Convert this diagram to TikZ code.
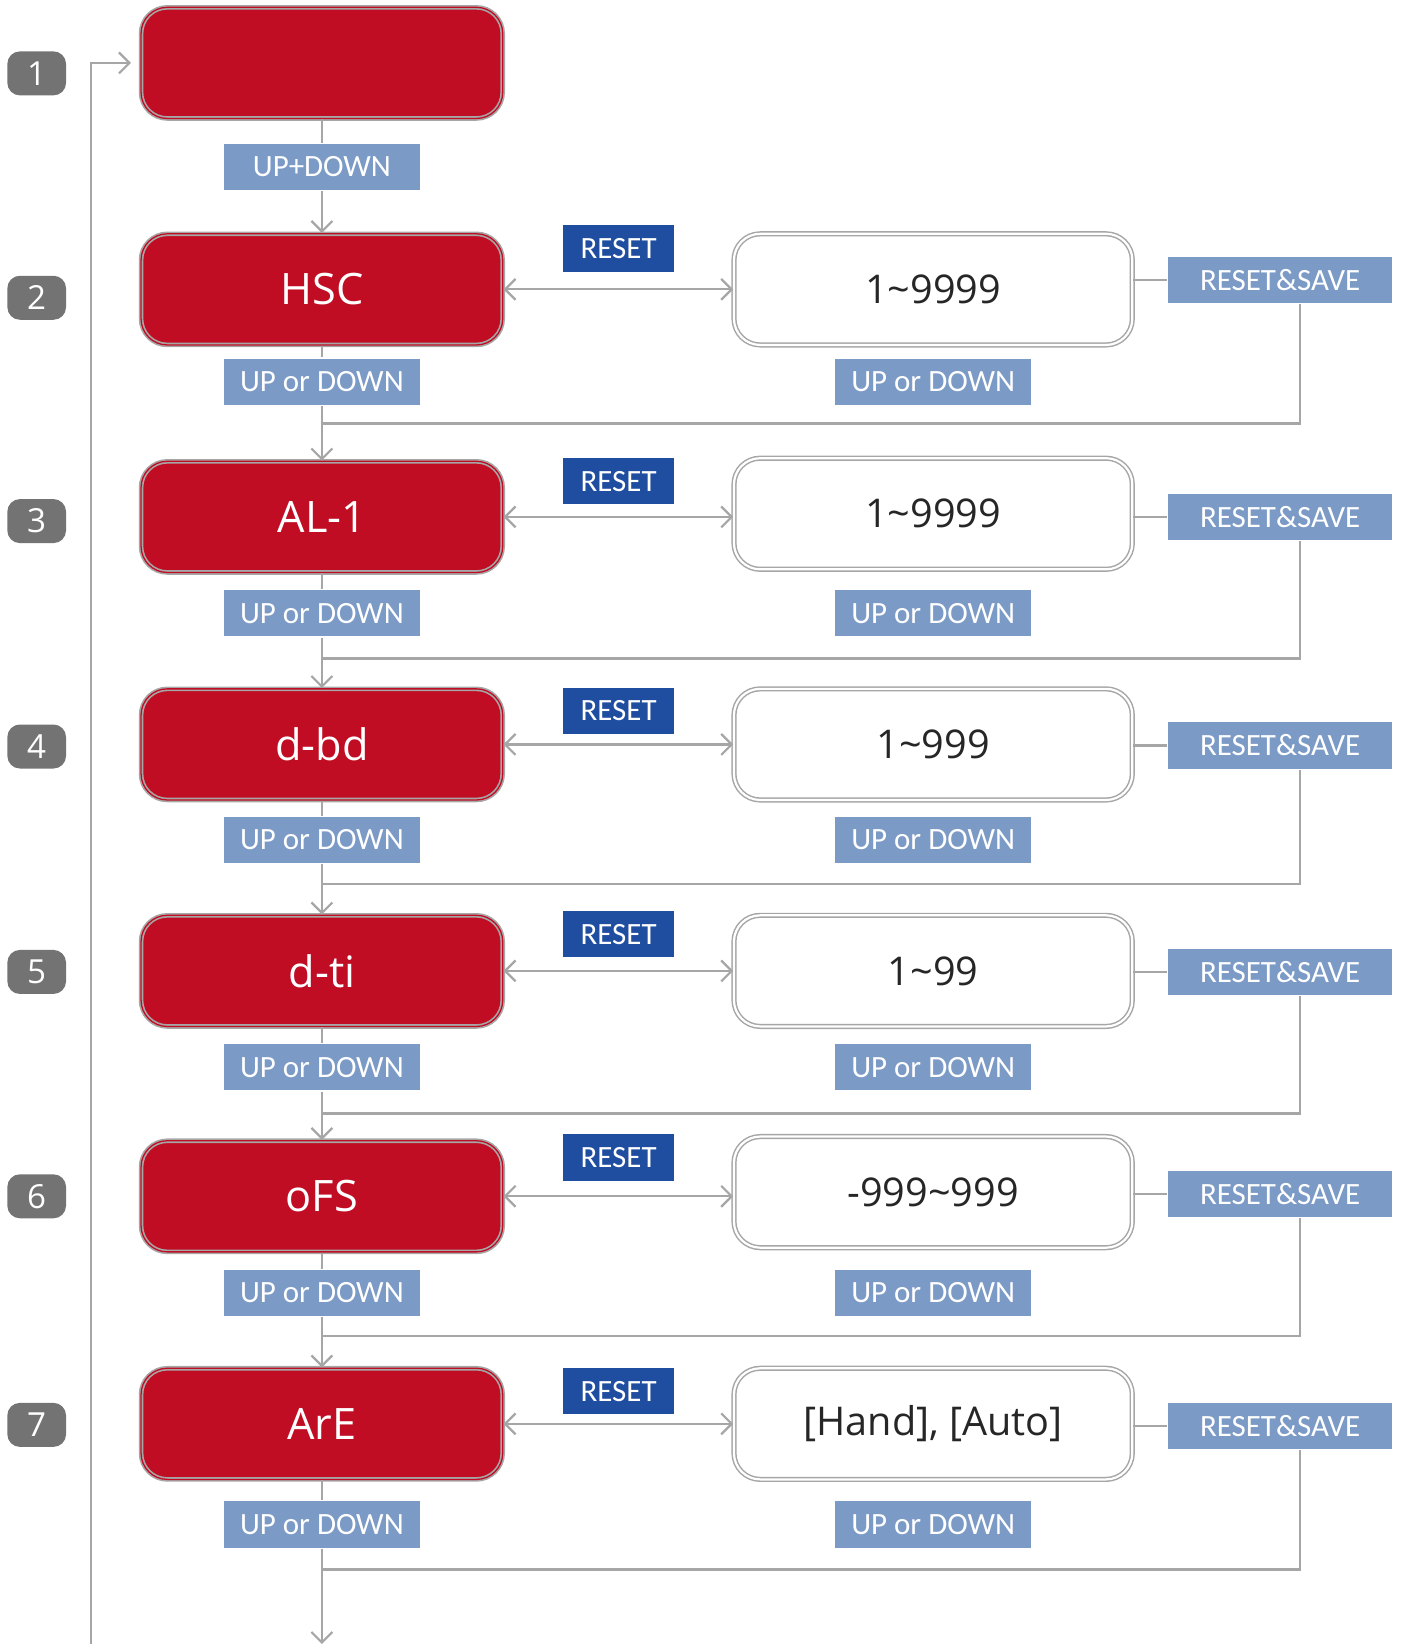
\documentclass[tikz,border=0pt]{standalone}
\usepackage{fontspec}
\setmainfont{Open Sans}
\newfontfamily\keyfont{Carlito}
\usetikzlibrary{arrows.meta}

\definecolor{boxred}{RGB}{192,13,35}
\definecolor{keyblue}{RGB}{123,154,198}
\definecolor{resetblue}{RGB}{31,77,160}
\definecolor{linegray}{RGB}{166,166,166}
\definecolor{badgegray}{RGB}{115,115,115}

\begin{document}
\begin{tikzpicture}[x=0.02cm,y=-0.02cm,line width=1.2pt,
  >={Straight Barb[length=2mm,width=4mm]},
  flow/.style={draw=linegray,line width=1.2pt},
  menu/.style={draw=linegray,line width=0.9pt,double=boxred,double distance=0.7pt,fill=boxred,
    rounded corners=0.5cm,minimum width=6.9cm,minimum height=2.12cm,inner sep=0pt,
    text=white,font=\fontsize{23.5}{26}\selectfont},
  valbox/.style={draw=linegray,line width=0.8pt,double=white,double distance=1.2pt,fill=white,
    rounded corners=0.5cm,minimum width=7.6cm,minimum height=2.12cm,inner sep=0pt,
    text=black!85,font=\fontsize{21.5}{24}\selectfont},
  key/.style={fill=keyblue,text=white,inner sep=0pt,minimum width=3.74cm,minimum height=0.88cm,
    font=\keyfont\fontsize{16.8}{18}\selectfont},
  resetkey/.style={key,fill=resetblue,minimum width=2.12cm},
  savekey/.style={key,minimum width=4.28cm},
  badge/.style={fill=badgegray,rounded corners=0.24cm,minimum width=1.12cm,minimum height=0.84cm,
    inner sep=0pt,text=white,font=\fontsize{18}{20}\selectfont}]

\useasboundingbox (0,0) rectangle (1340,1568);

% numeros a gauche
\foreach \n/\y in {1/70,2/284,3/497,4/712,5/927,6/1141,7/1359}{
  \node[badge] (b\n) at (35,\y) {\n};
}

%1
\node[menu] (m1) at (307,60) {};
\node[key] (u1) at (307,159) {UP+DOWN};
\draw[flow] (m1.south)--(u1.north);

%2
\node[menu] (m2) at (307,276) {HSC};
\node[key] (u2) at (307,364) {UP or DOWN};
\node[resetkey] (r2) at (590,237) {RESET};
\node[valbox] (v2) at (890,276) {1\textasciitilde9999};
\node[key] (w2) at (890,364) {UP or DOWN};
\node[savekey] (s2) at (1221,267) {RESET\&SAVE};
\coordinate (j2) at (307,404);
\draw[flow,->] (u1.south)--(m2.north);
\draw[flow] (m2.south)--(u2.north);
\draw[flow,<->] (m2.east)--(m2.east-|v2.west);
\draw[flow] (v2.east|-s2)--(s2.west);
\draw[flow] ([xshift=0.38cm]s2.south)|-(j2);

%3
\node[menu] (m3) at (307,493) {AL-1};
\node[key] (u3) at (307,585) {UP or DOWN};
\node[resetkey] (r3) at (590,459) {RESET};
\node[valbox] (v3) at (890,490) {1\textasciitilde9999};
\node[key] (w3) at (890,585) {UP or DOWN};
\node[savekey] (s3) at (1221,493) {RESET\&SAVE};
\coordinate (j3) at (307,628);
\draw[flow,->] (u2.south)--(m3.north);
\draw[flow] (m3.south)--(u3.north);
\draw[flow,<->] (m3.east)--(m3.east-|v3.west);
\draw[flow] (v3.east|-s3)--(s3.west);
\draw[flow] ([xshift=0.38cm]s3.south)|-(j3);

%4
\node[menu] (m4) at (307,710) {d-bd};
\node[key] (u4) at (307,801) {UP or DOWN};
\node[resetkey] (r4) at (590,678) {RESET};
\node[valbox] (v4) at (890,710) {1\textasciitilde999};
\node[key] (w4) at (890,801) {UP or DOWN};
\node[savekey] (s4) at (1221,711) {RESET\&SAVE};
\coordinate (j4) at (307,843);
\draw[flow,->] (u3.south)--(m4.north);
\draw[flow] (m4.south)--(u4.north);
\draw[flow,<->] (m4.east)--(m4.east-|v4.west);
\draw[flow] (v4.east|-s4)--(s4.west);
\draw[flow] ([xshift=0.38cm]s4.south)|-(j4);

%5
\node[menu] (m5) at (307,926) {d-ti};
\node[key] (u5) at (307,1018) {UP or DOWN};
\node[resetkey] (r5) at (590,891) {RESET};
\node[valbox] (v5) at (890,926) {1\textasciitilde99};
\node[key] (w5) at (890,1018) {UP or DOWN};
\node[savekey] (s5) at (1221,927) {RESET\&SAVE};
\coordinate (j5) at (307,1062);
\draw[flow,->] (u4.south)--(m5.north);
\draw[flow] (m5.south)--(u5.north);
\draw[flow,<->] (m5.east)--(m5.east-|v5.west);
\draw[flow] (v5.east|-s5)--(s5.west);
\draw[flow] ([xshift=0.38cm]s5.south)|-(j5);

%6
\node[menu] (m6) at (307,1141) {oFS};
\node[key] (u6) at (307,1233) {UP or DOWN};
\node[resetkey] (r6) at (590,1104) {RESET};
\node[valbox] (v6) at (890,1137) {-999\textasciitilde999};
\node[key] (w6) at (890,1233) {UP or DOWN};
\node[savekey] (s6) at (1221,1139) {RESET\&SAVE};
\coordinate (j6) at (307,1274);
\draw[flow,->] (u5.south)--(m6.north);
\draw[flow] (m6.south)--(u6.north);
\draw[flow,<->] (m6.east)--(m6.east-|v6.west);
\draw[flow] (v6.east|-s6)--(s6.west);
\draw[flow] ([xshift=0.38cm]s6.south)|-(j6);

%7
\node[menu] (m7) at (307,1358) {ArE};
\node[key] (u7) at (307,1454) {UP or DOWN};
\node[resetkey] (r7) at (590,1327) {RESET};
\node[valbox] (v7) at (890,1358) {[Hand], [Auto]};
\node[key] (w7) at (890,1454) {UP or DOWN};
\node[savekey] (s7) at (1221,1360) {RESET\&SAVE};
\coordinate (j7) at (307,1497);
\draw[flow,->] (u6.south)--(m7.north);
\draw[flow] (m7.south)--(u7.north);
\draw[flow,<->] (m7.east)--(m7.east-|v7.west);
\draw[flow] (v7.east|-s7)--(s7.west);
\draw[flow] ([xshift=0.38cm]s7.south)|-(j7);

% sortie et retour
\coordinate (fin) at (307,1568);
\coordinate (retour) at (87,1568);
\draw[flow,->] (u7.south)--(fin);
\draw[flow,->,shorten >=5pt] (retour)|-(m1.west);

\end{tikzpicture}
\end{document}
